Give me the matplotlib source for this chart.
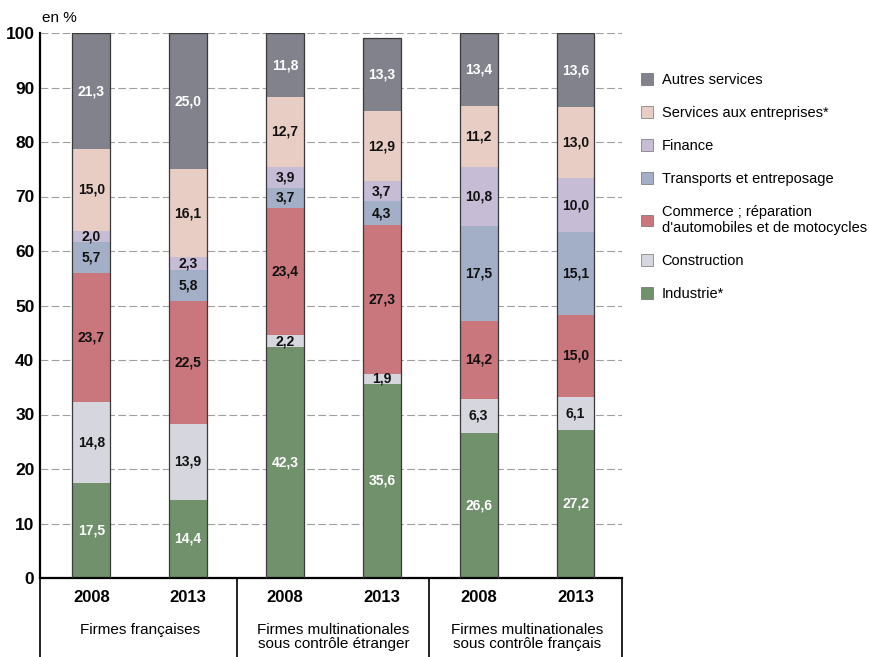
import matplotlib.pyplot as plt
import numpy as np

plt.rcParams["font.family"] = ["Liberation Sans", "DejaVu Sans"]

years = ["2008", "2013", "2008", "2013", "2008", "2013"]
groups = ["Firmes françaises",
          "Firmes multinationales\nsous contrôle étranger",
          "Firmes multinationales\nsous contrôle français"]

sectors = ["Industrie*", "Construction",
           "Commerce ; réparation\nd'automobiles et de motocycles",
           "Transports et entreposage", "Finance",
           "Services aux entreprises*", "Autres services"]

industrie = [17.5, 14.4, 42.3, 35.6, 26.6, 27.2]
construction = [14.8, 13.9, 2.2, 1.9, 6.3, 6.1]
commerce = [23.7, 22.5, 23.4, 27.3, 14.2, 15.0]
transports = [5.7, 5.8, 3.7, 4.3, 17.5, 15.1]
finance = [2.0, 2.3, 3.9, 3.7, 10.8, 10.0]
services_ent = [15.0, 16.1, 12.7, 12.9, 11.2, 13.0]
autres = [21.3, 25.0, 11.8, 13.3, 13.4, 13.6]

series = [industrie, construction, commerce, transports, finance,
          services_ent, autres]
colors = ["#71916c", "#d6d6de", "#c9767c", "#a3afc6", "#c6bcd6",
          "#e8cdc4", "#82828c"]
text_colors = ["white", "#111111", "#111111", "#111111", "#111111",
               "#111111", "white"]

fig = plt.figure(figsize=(8.69, 6.57), dpi=100)
ax = fig.add_axes([40 / 869, 1 - 578 / 657, 582 / 869, 545 / 657])

x = np.arange(len(years))
width = 0.39
bottom = np.zeros(len(years))
for vals, col, tcol in zip(series, colors, text_colors):
    vals = np.array(vals)
    ax.bar(x, vals, width, bottom=bottom, color=col, edgecolor="none",
           zorder=2)
    for xi, b, v in zip(x, bottom, vals):
        ax.text(xi, b + v / 2, f"{v:.1f}".replace(".", ","), ha="center",
                va="center", fontsize=10, fontweight="bold", color=tcol,
                zorder=4)
    bottom += vals

# dark outline around each full bar
ax.bar(x, bottom, width, fill=False, edgecolor="#3a3a3a", linewidth=0.9,
       zorder=3)

ax.set_xlim(-0.53, 5.48)
ax.set_ylim(0, 100)
ax.set_yticks(range(0, 101, 10))
ax.set_xticks([])
ax.tick_params(axis="y", length=0, labelsize=12.5, pad=4)
for lab in ax.get_yticklabels():
    lab.set_fontweight("bold")
ax.yaxis.grid(True, color="#a0a0a0", linestyle=(0, (7, 3)), linewidth=0.8,
              zorder=0)
for s in ["top", "right"]:
    ax.spines[s].set_visible(False)
ax.spines["left"].set_linewidth(1.6)
ax.spines["bottom"].set_linewidth(1.6)

fig.text(42 / 869, 1 - 18 / 657, "en %", fontsize=11, ha="left",
         va="center")

# table under the bars: years and group names
trans = ax.get_xaxis_transform()
for xi, yr in zip(x, years):
    ax.text(xi, -0.035, yr, transform=trans, ha="center", va="center",
            fontsize=12, fontweight="bold", clip_on=False)
for gi, name in enumerate(groups):
    ax.text(2 * gi + 0.5, -0.083, name, transform=trans, ha="center",
            va="top", fontsize=11, linespacing=1.0, clip_on=False)
for sx in [-0.53, 1.5, 3.49, 5.48]:
    ax.plot([sx, sx], [0, -0.2], transform=trans, color="#111111",
            linewidth=1.3, clip_on=False)

handles = [plt.Rectangle((0, 0), 1, 1, facecolor=c, edgecolor="#555555",
                         linewidth=0.4) for c in colors]
fig.legend(handles[::-1], sectors[::-1], loc="upper left",
           bbox_to_anchor=(628 / 869, 1 - 60 / 657), frameon=False,
           fontsize=10.5, handlelength=0.8, handleheight=0.8,
           handletextpad=0.6, labelspacing=1.3)

fig.savefig("out.png", dpi=100)
